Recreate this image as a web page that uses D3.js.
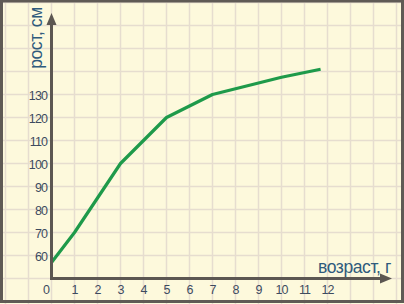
<!DOCTYPE html>
<html>
<head>
<meta charset="utf-8">
<script src="https://cdn.jsdelivr.net/npm/d3@7"></script>
<style>
  html, body { margin: 0; padding: 0; background: #fdf9dc; }
  svg { display: block; font-family: "Liberation Sans", Arial, sans-serif; }
</style>
</head>
<body>
<svg id="chart" width="404" height="304"></svg>
<script>
// Growth curve: age in years vs. height in cm
const aAges = [0, 1, 3, 5, 7, 10, 11.7];
const aHeights = [57, 70, 100, 120, 130, 137.5, 141];
const aXTicks = [1, 2, 3, 4, 5, 6, 7, 8, 9, 10, 11, 12];
const aYTicks = [60, 70, 80, 90, 100, 110, 120, 130];
const sXTitle = 'возраст, г';
const sYTitle = 'рост, см';

const iWidth = 404;
const iHeight = 304;
const oSvg = d3.select('#chart');

const oX = d3.scaleLinear().domain([0, 12]).range([51.5, 327.5]);
const oY = d3.scaleLinear().domain([50, 130]).range([278.5, 94.5]);

// Background
oSvg.append('rect')
  .attr('width', iWidth).attr('height', iHeight)
  .attr('fill', '#fdf9dc');

// Grid (squared paper, one cell per year / per 10 cm)
const oGrid = oSvg.append('g').attr('stroke', '#e6ddcf').attr('stroke-width', 1.5);
oGrid.selectAll('line.v')
  .data(d3.range(-2, 16))
  .enter().append('line')
  .attr('x1', d => oX(d)).attr('x2', d => oX(d))
  .attr('y1', 0).attr('y2', iHeight);
oGrid.selectAll('line.h')
  .data(d3.range(40, 180, 10))
  .enter().append('line')
  .attr('y1', d => oY(d)).attr('y2', d => oY(d))
  .attr('x1', 0).attr('x2', iWidth);

// Growth line
oSvg.append('path')
  .datum(aAges.map((a, i) => [a, aHeights[i]]))
  .attr('fill', 'none')
  .attr('stroke', '#1e9a4a')
  .attr('stroke-width', 3.2)
  .attr('stroke-linejoin', 'round')
  .attr('d', d3.line().x(d => oX(d[0])).y(d => oY(d[1])));

// Axes with arrows
const sAxis = '#5c5752';
const oAxes = oSvg.append('g');
oAxes.append('path')
  .attr('d', `M${oX(0)},24 V${oY(50)} H381`)
  .attr('fill', 'none')
  .attr('stroke', sAxis)
  .attr('stroke-width', 3);
oAxes.append('path')
  .attr('d', `M${oX(0)},13 L${oX(0) + 5},25 L${oX(0) - 5},25 Z`)
  .attr('fill', sAxis);
oAxes.append('path')
  .attr('d', `M392,${oY(50)} L380,${oY(50) - 5} L380,${oY(50) + 5} Z`)
  .attr('fill', sAxis);

// Tick labels
const sTick = '#3d4b5f';
oSvg.append('g').selectAll('text')
  .data(aYTicks)
  .enter().append('text')
  .attr('x', 47)
  .attr('y', d => oY(d) + 5.5)
  .attr('text-anchor', 'end')
  .attr('font-size', 12.5)
  .attr('letter-spacing', -0.9)
  .attr('fill', sTick)
  .text(d => d);

oSvg.append('g').selectAll('text')
  .data(aXTicks)
  .enter().append('text')
  .attr('x', d => oX(d))
  .attr('y', 294)
  .attr('text-anchor', 'middle')
  .attr('font-size', 12.5)
  .attr('letter-spacing', -0.9)
  .attr('fill', sTick)
  .text(d => d);

oSvg.append('text')
  .attr('x', 46.5).attr('y', 294)
  .attr('text-anchor', 'middle')
  .attr('font-size', 12.5)
  .attr('fill', sTick)
  .text(0);

// Axis titles
const sTitle = '#2f5b7c';
oSvg.append('text')
  .attr('x', 391).attr('y', 273)
  .attr('text-anchor', 'end')
  .attr('font-size', 17.5)
  .attr('letter-spacing', -0.4)
  .attr('fill', sTitle)
  .text(sXTitle);

oSvg.append('text')
  .attr('transform', 'translate(42,38) rotate(-90)')
  .attr('text-anchor', 'middle')
  .attr('font-size', 17.5)
  .attr('letter-spacing', -0.4)
  .attr('fill', sTitle)
  .text(sYTitle);

// Frame
oSvg.append('rect')
  .attr('x', 1.5).attr('y', 1)
  .attr('width', 401).attr('height', 300.5)
  .attr('fill', 'none')
  .attr('stroke', '#5f5a55')
  .attr('stroke-width', 3);
</script>
</body>
</html>
